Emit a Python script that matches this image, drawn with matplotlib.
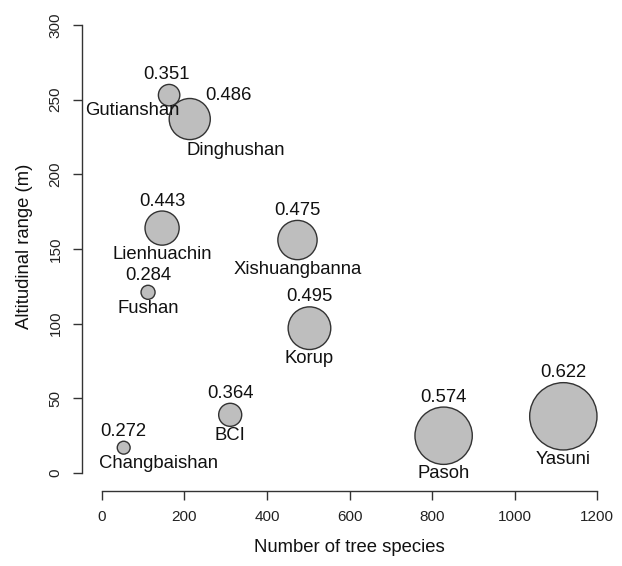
import matplotlib
matplotlib.use("Agg")
import matplotlib.pyplot as plt
import numpy as np

plt.rcParams['font.family'] = ['Liberation Sans', 'DejaVu Sans']

# ---- data ----
sites = ["Changbaishan", "Fushan", "Lienhuachin", "Gutianshan", "Dinghushan",
         "BCI", "Xishuangbanna", "Korup", "Pasoh", "Yasuni"]
n_species = [53, 112, 146, 163, 213, 311, 474, 503, 828, 1118]
alt_range = [17, 121, 164, 253, 237, 39, 156, 97, 25, 38]
beta = [0.272, 0.284, 0.443, 0.351, 0.486, 0.364, 0.475, 0.495, 0.574, 0.622]
x_ticks = [0, 200, 400, 600, 800, 1000, 1200]
y_ticks = [0, 50, 100, 150, 200, 250, 300]

W, H, DPI = 622, 566, 100
PX = 72.0 / DPI  # points per pixel

fig = plt.figure(figsize=(W / DPI, H / DPI), dpi=DPI)
# plot region in pixels: left 82, right 617, top 7, bottom 491
ax = fig.add_axes([82 / W, 1 - 491 / H, 535 / W, 484 / H])
ax.set_xlim(-48, 1248)
ax.set_ylim(-12, 312)

# circle radius (pixels) grows with the square of the value
radius_px = 87.0 * np.asarray(beta) ** 2
sizes = (2 * radius_px * PX) ** 2
ax.scatter(n_species, alt_range, s=sizes, facecolor="#BEBEBE",
           edgecolor="#333333", linewidths=1.0, zorder=2)

# label offsets (pixels; +dy = upwards)
value_off = {"Dinghushan": (39, 23.6), "Gutianshan": (-2.6, 21)}
name_off = {"Gutianshan": (-36.8, -15.7), "Dinghushan": (45.7, -31.4),
            "Changbaishan": (35, -16.3)}

fs = 13.3
for name, x, y, v, r in zip(sites, n_species, alt_range, beta, radius_px):
    dx, dy = value_off.get(name, (0, r + 10))
    ax.annotate(f"{v:.3f}", (x, y), xytext=(dx * PX, dy * PX),
                textcoords="offset points", ha="center", va="center",
                fontsize=fs, color="#111111", zorder=3)
    dx, dy = name_off.get(name, (0, -(r + 9.5)))
    ax.annotate(name, (x, y), xytext=(dx * PX, dy * PX),
                textcoords="offset points", ha="center", va="center",
                fontsize=fs, color="#111111", zorder=3)

# axes styling (R base-graphics look)
for s in ("top", "right"):
    ax.spines[s].set_visible(False)
ax.spines["left"].set_bounds(0, 300)
ax.spines["bottom"].set_bounds(0, 1200)
for s in ("left", "bottom"):
    ax.spines[s].set_color("#333333")
    ax.spines[s].set_linewidth(1.0)
ax.set_xticks(x_ticks)
ax.set_yticks(y_ticks)
ax.set_xticklabels([str(t) for t in x_ticks])
ax.set_yticklabels([str(t) for t in y_ticks], rotation=90, va="center")
ax.tick_params(axis="both", direction="out", length=9 * PX, width=1.0,
               color="#333333", labelsize=11, labelcolor="#222222", pad=7.5)

fig.text(349 / W, 1 - 548 / H, "Number of tree species", ha="center",
         va="center", fontsize=13.3, color="#111111")
fig.text(25 / W, 1 - 246 / H, "Altitudinal range (m)", ha="center",
         va="center", rotation=90, fontsize=13.3, color="#111111")

fig.savefig("out.png", dpi=DPI)
